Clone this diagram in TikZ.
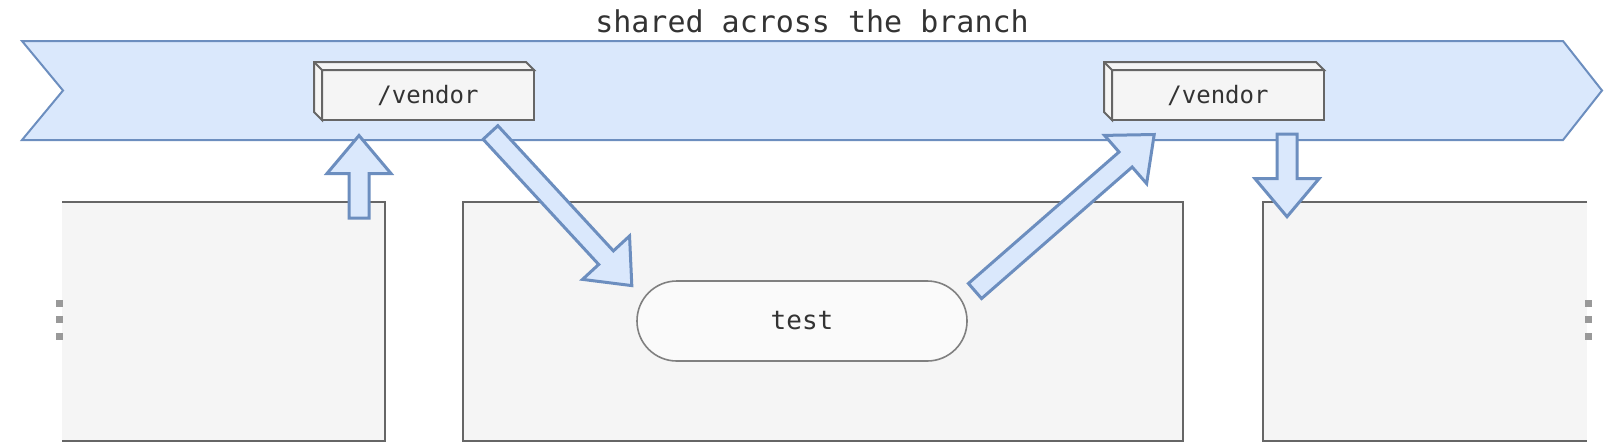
\documentclass[tikz,border=0pt]{standalone}
\usepackage{fontspec}
\newfontfamily\codefont{DejaVu Sans Mono}
\usetikzlibrary{calc}

\definecolor{lanefill}{HTML}{DAE8FC}
\definecolor{laneline}{HTML}{6C8EBF}
\definecolor{boxfill}{HTML}{F5F5F5}
\definecolor{boxline}{HTML}{666666}
\definecolor{pillfill}{HTML}{FAFAFA}
\definecolor{pillline}{HTML}{808080}
\definecolor{ink}{HTML}{333333}
\definecolor{dotgray}{HTML}{999999}

\newcommand{\fatarrow}[2]{%
  \path ($(#2)!19pt!(#1)$) coordinate (fa-base);
  \draw[fat] ($(#1)!5pt!90:(#2)$) -- ($(fa-base)!5pt!90:(#2)$)
    -- ($(fa-base)!16pt!90:(#2)$) -- (#2)
    -- ($(fa-base)!16pt!-90:(#2)$) -- ($(fa-base)!5pt!-90:(#2)$)
    -- ($(#1)!5pt!-90:(#2)$) -- cycle;
}

\begin{document}
\begin{tikzpicture}[x=0.5pt,y=-0.5pt,font=\codefont,text=ink]
  \tikzstyle{lane}=[draw=laneline,fill=lanefill,line width=1pt]
  \tikzstyle{stage}=[rectangle,fill=boxfill,minimum height=119.5pt,inner sep=0pt,outer sep=0pt]
  \tikzstyle{rim}=[draw=boxline,line width=1pt]
  \tikzstyle{cache}=[rectangle,draw=boxline,fill=boxfill,line width=1pt,minimum width=106pt,minimum height=25pt,
                     inner sep=0pt,outer sep=0pt,font=\codefont\fontsize{12}{14}\selectfont]
  \tikzstyle{job}=[rectangle,rounded corners=19.9pt,draw=pillline,fill=pillfill,line width=0.8pt,
                   minimum width=165pt,minimum height=40pt,font=\codefont\fontsize{13}{15}\selectfont]
  \tikzstyle{fat}=[draw=laneline,fill=lanefill,line width=1.5pt]
  \tikzstyle{handle}=[rectangle,fill=dotgray,minimum size=3.5pt,inner sep=0pt]

  \useasboundingbox (0,0) rectangle (1604,446);

  % the branch
  \draw[lane] (22,41) -- (1563,41) -- (1602,90.5) -- (1563,140) -- (22,140) -- (63,90.5) -- cycle;
  \node (title) at (812,32) [anchor=base,font=\codefont\fontsize{15}{18}\selectfont] {shared across the branch};

  % jobs
  \node[stage,minimum width=161.5pt] (prev) at (223.5,321) {};
  \draw[rim] (prev.north west) -- (prev.north east) -- (prev.south east) -- (prev.south west);
  \node[stage,rim,minimum width=360pt] (cur) at (823,321) {};
  \node[stage,minimum width=162pt] (next) at (1425,321) {};
  \draw[rim] (next.north east) -- (next.north west) -- (next.south west) -- (next.south east);
  \node[job] (test) at (802,321) {test};

  \foreach \n/\x in {vendA/428,vendB/1218} {
    \node[cache] (\n) at (\x,95) {/vendor};
    \filldraw[rim,fill=boxfill] (\n.south west) -- ++(-8,-8) |- ($(\n.north east)+(-8,-8)$)
      -- (\n.north east) -- (\n.north west) -- cycle;
    \draw[rim] (\n.north west) -- ++(-8,-8);
  }

  \coordinate (up0) at (359,218);     \coordinate (up1) at (359,135.5);
  \coordinate (dl0) at (490.5,132.5); \coordinate (dl1) at (631.8,285.6);
  \coordinate (ur0) at (975,291);     \coordinate (ur1) at (1154.2,134.5);
  \coordinate (dn0) at (1287,134);    \coordinate (dn1) at (1287,216.7);
  \fatarrow{up0}{up1}
  \fatarrow{dl0}{dl1}
  \fatarrow{ur0}{ur1}
  \fatarrow{dn0}{dn1} %cache

  \foreach \y [count=\i] in {303.5,319.5,336.5} {
    \node[handle] (hl\i) at (59.5,\y) {};
    \node[handle] (hr\i) at (1588,\y) {};
  }
\end{tikzpicture}
\end{document}
